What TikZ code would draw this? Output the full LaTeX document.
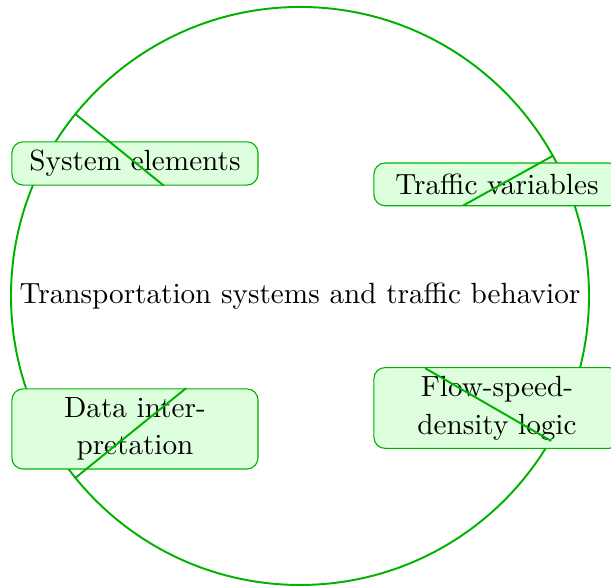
\documentclass[tikz,border=0pt]{standalone}
\usepackage{tikz}
\usetikzlibrary{calc}

\colorlet{ringgreen}{green!70!black}
\colorlet{boxgreen}{green!13}

\begin{document}
\begin{tikzpicture}[
	font=\fontsize{10.5pt}{13.6pt}\selectfont,
	hub/.style={circle,draw=ringgreen,line width=0.7pt,minimum size=7.306cm,inner sep=0pt},
	topic/.style={draw=ringgreen,fill=boxgreen,rounded corners=4pt,text width=2.9cm,
		align=center,minimum width=3.11cm,minimum height=0.54cm,inner sep=3pt},
	spoke/.style={ringgreen,line width=0.7pt}
	]
			\useasboundingbox (-3.792,-3.666) rectangle (3.931,3.741);
			\node[hub] (hub) at (0,0) {Transportation systems and traffic behavior};
			
			\node[topic] (sys) at (-2.086,1.675) {System elements};
			\node[topic] (var) at (2.49,1.41) {Traffic variables};
			\node[topic] (dat) at (-2.086,-1.681) {Data interpretation};
			\node[topic] (fsd) at (2.49,-1.416) {Flow-speed-density logic};
			
			\coordinate (sysend) at ($(hub.center)!0.605!(hub.141)$);
			\coordinate (varend) at ($(hub.center)!0.644!(hub.29)$);
			\coordinate (datend) at ($(hub.center)!0.505!(hub.-141)$);
			\coordinate (fsdend) at ($(hub.center)!0.498!(hub.-30)$);
			\draw[spoke] (hub.141) -- (sysend);
			\draw[spoke] (hub.29) -- (varend);
			\draw[spoke] (hub.-141) -- (datend);
			\draw[spoke] (hub.-30) -- (fsdend);
		\end{tikzpicture}
\end{document}
